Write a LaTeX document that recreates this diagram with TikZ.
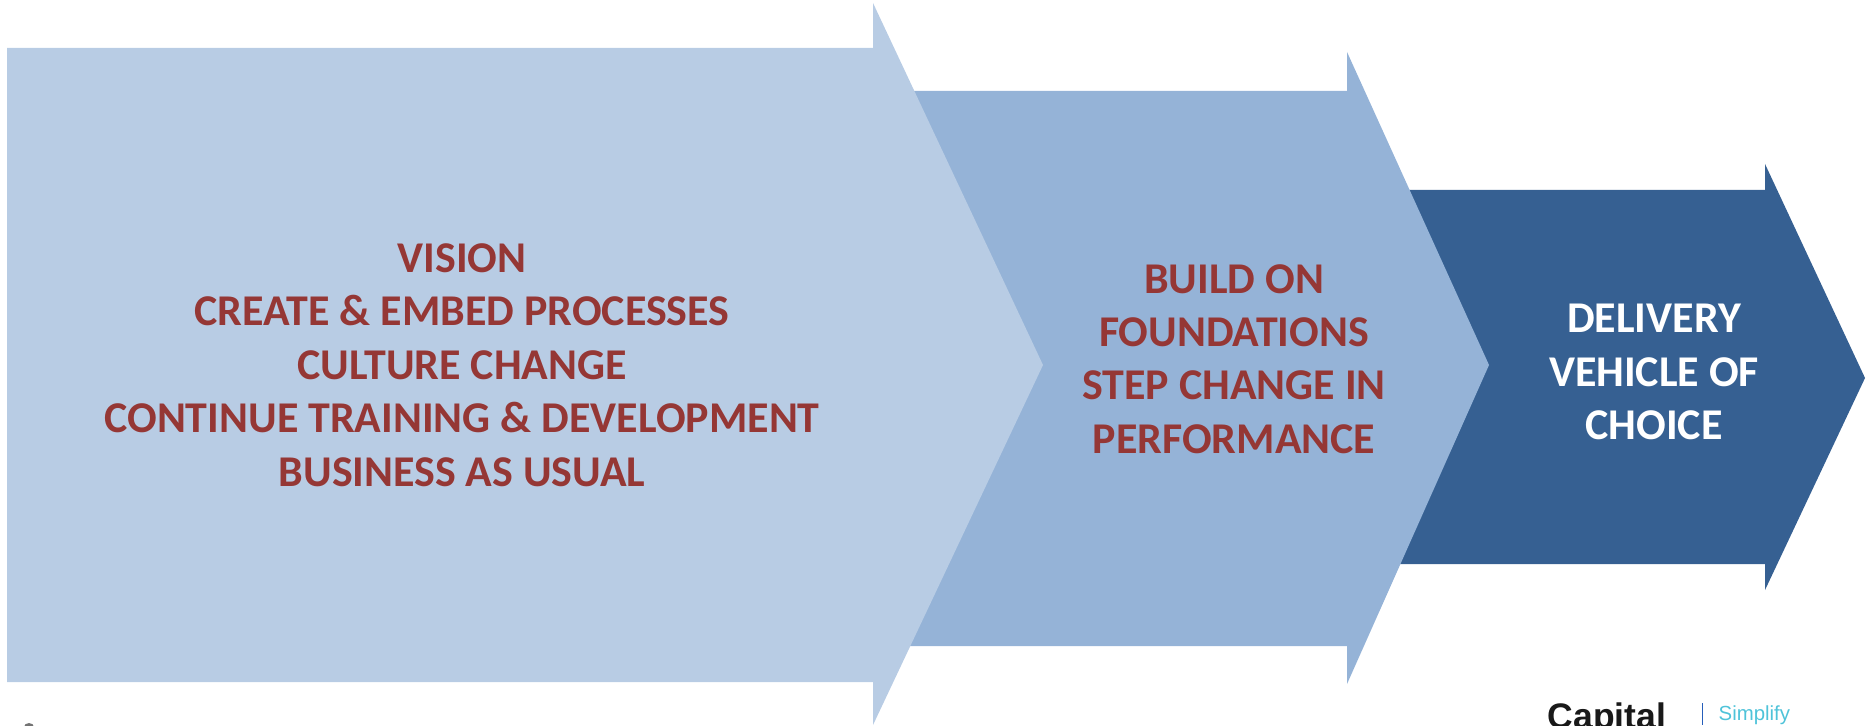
\documentclass[tikz,border=0pt]{standalone}
\usepackage{fontspec}
\setmainfont{Carlito}
\newfontfamily\logofont{Liberation Sans}
\definecolor{paleBlue}{HTML}{B8CCE4}
\definecolor{midBlue}{HTML}{95B3D7}
\definecolor{darkBlue}{HTML}{366092}
\definecolor{textRed}{HTML}{953735}
\definecolor{logoTeal}{HTML}{4FC3D9}
\tikzset{
    label/.style={font=\bfseries\fontsize{12.5}{15.2}\selectfont, align=center, text=textRed},
}

\begin{document}
\begin{tikzpicture}[x=1cm,y=-1cm]
    \useasboundingbox (0,0) rectangle (18.66,7.25);
    \clip (0,0) rectangle (18.66,7.25);
    \fill[darkBlue] (13.5,1.90) -- (17.65,1.90) -- (17.65,1.64) -- (18.65,3.78) -- (17.65,5.90) -- (17.65,5.64) -- (13.5,5.64) -- cycle;
    \fill[midBlue] (8.5,0.91) -- (13.47,0.91) -- (13.47,0.52) -- (14.89,3.65) -- (13.47,6.84) -- (13.47,6.46) -- (8.5,6.46) -- cycle;
    \fill[paleBlue] (0.07,0.48) -- (8.73,0.48) -- (8.73,0.03) -- (10.43,3.65) -- (8.73,7.25) -- (8.73,6.82) -- (0.07,6.82) -- cycle;
    \node[label] (phaseOne) at (4.62,3.65) {VISION\\CREATE \& EMBED PROCESSES\\CULTURE CHANGE\\CONTINUE TRAINING \& DEVELOPMENT\\BUSINESS AS USUAL};
    \node[label] (phaseTwo) at (12.34,3.59) {BUILD ON\\FOUNDATIONS\\STEP CHANGE IN\\PERFORMANCE};
    \node[label, text=white] (phaseThree) at (16.54,3.72) {DELIVERY\\VEHICLE OF\\CHOICE};
    \node[font=\logofont\bfseries\fontsize{10.1}{10}\selectfont, text=black!90, anchor=base west, inner sep=0pt] (logoName) at (15.47,7.28) {Capital};
    \node[font=\logofont\fontsize{5.8}{6}\selectfont, text=logoTeal, anchor=base west, inner sep=0pt] (logoTag) at (17.18,7.20) {Simplify};
    \draw[logoTeal!60!blue!80!black, line width=0.2pt] (17.02,7.03) -- (17.02,7.25);
    \fill[black!55] (0.29,7.27) ellipse (0.05 and 0.04);
\end{tikzpicture}
\end{document}
